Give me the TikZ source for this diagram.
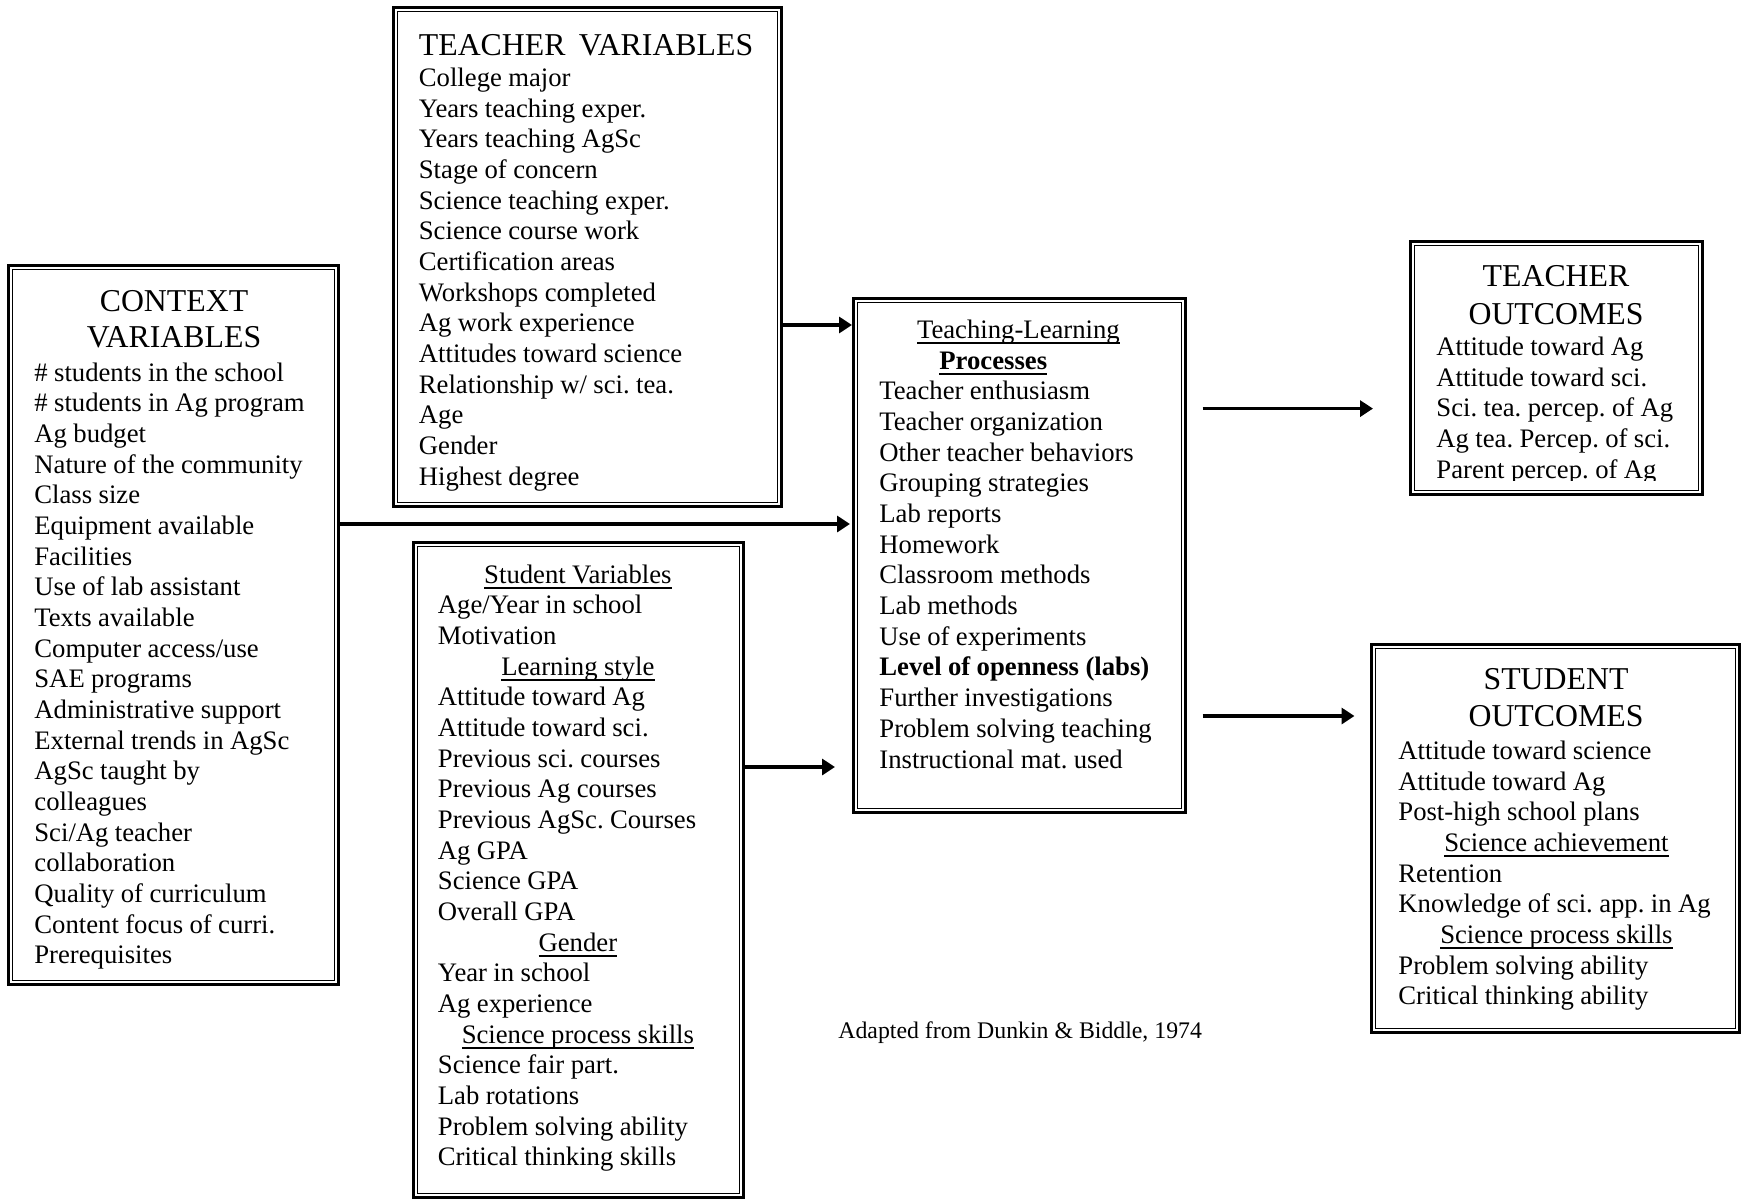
\documentclass[tikz,border=0pt]{standalone}
\usepackage{fontspec}
\setmainfont{Liberation Serif}
\usetikzlibrary{arrows.meta}
\newsavebox\ulbox
\newcommand\ulx[1]{\sbox\ulbox{#1}\rlap{\rule[-0.21em]{\wd\ulbox}{0.065em}}\usebox\ulbox}
\newcommand\ctr[2]{\makebox[#1][c]{#2}}
\newcommand\innerframe[1]{\draw[iline] ([shift={(2.83pt,-2.83pt)}]#1.north west) rectangle ([shift={(-2.83pt,2.83pt)}]#1.south east);}
\begin{document}
\frenchspacing
\begin{tikzpicture}[x=0.5pt,y=-0.5pt,
 dbox/.style={draw, line width=1.5pt, outer sep=0.75pt, inner sep=0pt, rectangle},
 iline/.style={line width=0.65pt},
 body/.style={inner sep=0pt, anchor=base west, align=left, text width=200pt,
   font=\fontsize{13.35}{15.34}\selectfont,
   execute at begin node={\spaceskip=3.2pt\relax\xspaceskip=3.2pt\relax}},
 ttl/.style={inner sep=0pt, anchor=base, align=center, text width=180pt, font=\fontsize{15.9}{18.3}\selectfont},
 ttlleft/.style={inner sep=0pt, anchor=base west, font=\fontsize{15.9}{18.3}\selectfont},
 arr/.style={line width=1.8pt, -{Triangle[length=6.5pt,width=8pt]}},
]
\useasboundingbox (0,0) rectangle (1741,1199);

% boxes
\node[dbox, minimum width=165pt, minimum height=359.5pt] (ctx) at (173.5,625) {};
\node[dbox, minimum width=194pt, minimum height=249.5pt] (tv) at (587.5,257) {};
\node[dbox, minimum width=165pt, minimum height=327.5pt] (sv) at (578.5,870) {};
\node[dbox, minimum width=166pt, minimum height=257pt] (tl) at (1019.5,555.5) {};
\node[dbox, minimum width=146pt, minimum height=126.5pt] (to) at (1556.5,368) {};
\node[dbox, minimum width=184pt, minimum height=194pt] (so) at (1555.5,838.5) {};
\innerframe{ctx}
\innerframe{tv}
\innerframe{sv}
\innerframe{tl}
\innerframe{to}
\innerframe{so}

% context variables
\node[ttl] (ctxT) at (174,311) {CONTEXT\\VARIABLES};
\node[body] (ctxB) at (34,381) {\# students in the school\\
\# students in Ag program\\
Ag budget\\
Nature of the community\\
Class size\\
Equipment available\\
Facilities\\
Use of lab assistant\\
Texts available\\
Computer access/use\\
SAE programs\\
Administrative support\\
External trends in AgSc\\
AgSc taught by\\
colleagues\\
Sci/Ag teacher\\
collaboration\\
Quality of curriculum\\
Content focus of curri.\\
Prerequisites};

% teacher variables
\node[ttlleft] (tvT) at (418.5,55.5) {TEACHER\hspace{0.42em}VARIABLES};
\node[body] (tvB) at (418.5,86.5) {College major\\
Years teaching exper.\\
Years teaching AgSc\\
Stage of concern\\
Science teaching exper.\\
Science course work\\
Certification areas\\
Workshops completed\\
Ag work experience\\
Attitudes toward science\\
Relationship w/ sci. tea.\\
Age\\
Gender\\
Highest degree};

% student variables
\node[body] (svB) at (437.5,583) {\ctr{140pt}{\ulx{Student Variables}}\\
Age/Year in school\\
Motivation\\
\ctr{140pt}{\ulx{Learning style}}\\
Attitude toward Ag\\
Attitude toward sci.\\
Previous sci. courses\\
Previous Ag courses\\
Previous AgSc. Courses\\
Ag GPA\\
Science GPA\\
Overall GPA\\
\ctr{140pt}{\ulx{Gender}}\\
Year in school\\
Ag experience\\
\ctr{140pt}{\ulx{Science process skills}}\\
Science fair part.\\
Lab rotations\\
Problem solving ability\\
Critical thinking skills};

% teaching-learning processes
\node[body] (tlB) at (879,338.5) {\ctr{139pt}{\ulx{Teaching-Learning}}\\
\hspace*{30pt}\textbf{\ulx{Processes}}\\
Teacher enthusiasm\\
Teacher organization\\
Other teacher behaviors\\
Grouping strategies\\
Lab reports\\
Homework\\
Classroom methods\\
Lab methods\\
Use of experiments\\
\textbf{Level of openness (labs)}\\
Further investigations\\
Problem solving teaching\\
Instructional mat. used};

% teacher outcomes
\node[ttl, font=\fontsize{15.9}{19}\selectfont] (toT) at (1556,286) {TEACHER\\OUTCOMES};
\begin{scope}
\clip (1412,243) rectangle (1701,480.5);
\node[body] (toB) at (1436,355.5) {Attitude toward Ag\\
Attitude toward sci.\\
Sci. tea. percep. of Ag\\
Ag tea. Percep. of sci.\\
Parent percep. of Ag};
\end{scope}

% student outcomes
\node[ttl, font=\fontsize{15.9}{18.6}\selectfont] (soT) at (1556,689) {STUDENT\\OUTCOMES};
\node[body] (soB) at (1398,759.5) {Attitude toward science\\
Attitude toward Ag\\
Post-high school plans\\
\ctr{158pt}{\ulx{Science achievement}}\\
Retention\\
Knowledge of sci. app. in Ag\\
\ctr{158pt}{\ulx{Science process skills}}\\
Problem solving ability\\
Critical thinking ability};

% source note
\node[inner sep=0pt, anchor=base west, font=\fontsize{11.9}{13.7}\selectfont] (note) at (838,1038) {Adapted from Dunkin \& Biddle, 1974};

% connectors
\coordinate (y1) at (0,325);
\coordinate (y2) at (0,524);
\coordinate (y3) at (0,767);
\coordinate (y4) at (0,408.6);
\coordinate (y5) at (0,716);
\draw[arr] (tv.east |- y1) -- (tl.west |- y1);
\draw[arr] (ctx.east |- y2) -- ([xshift=-1pt]tl.west |- y2);
\draw[arr, shorten >=8.5pt] (sv.east |- y3) -- (tl.west |- y3);
\draw[arr, shorten <=7.75pt, shorten >=18pt] (tl.east |- y4) -- (to.west |- y4);
\draw[arr, shorten <=7.75pt, shorten >=7.75pt] (tl.east |- y5) -- (so.west |- y5);
\end{tikzpicture}
\end{document}
